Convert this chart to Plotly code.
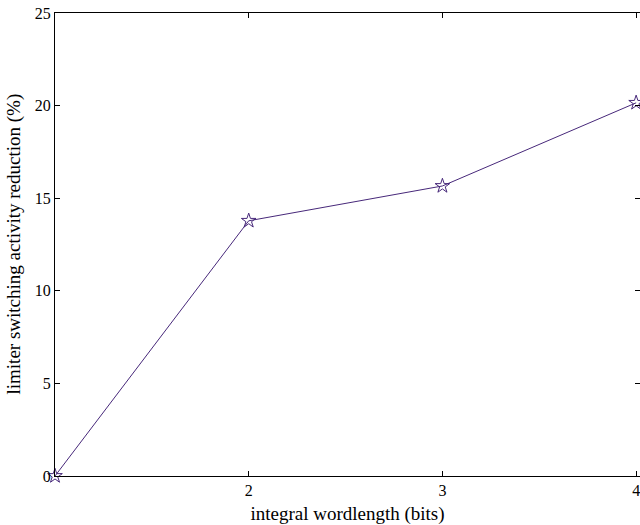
import plotly.graph_objects as go

# integral wordlength (bits) vs. limiter switching activity reduction (%)
wordlength = [1, 2, 3, 4]
reduction = [0.0, 13.78, 15.66, 20.15]
x_ticks = [2, 3, 4]
y_ticks = [0, 5, 10, 15, 20, 25]

x_label = "integral wordlength (bits)"
y_label = "limiter switching activity reduction (%)"

line_color = "#47287a"
font_family = "Liberation Serif, Times New Roman, serif"

fig = go.Figure(
    go.Scatter(
        x=wordlength,
        y=reduction,
        mode="lines+markers",
        line=dict(color=line_color, width=1),
        marker=dict(symbol="star-open", size=11, color=line_color,
                    line=dict(color=line_color, width=1)),
        cliponaxis=False,
        showlegend=False,
    )
)

axis_common = dict(
    showgrid=False,
    zeroline=False,
    showline=True,
    linecolor="black",
    linewidth=1.3,
    mirror="ticks",
    ticks="inside",
    ticklen=5,
    tickcolor="black",
    ticklabeloverflow="allow",
    tickfont=dict(family=font_family, size=16, color="black"),
)

fig.update_layout(
    width=640,
    height=525,
    margin=dict(l=55, r=0, t=13, b=49),
    paper_bgcolor="white",
    plot_bgcolor="white",
    font=dict(family=font_family, color="black"),
    xaxis=dict(
        range=[1, 4.02],
        tickvals=x_ticks,
        ticktext=[str(v) for v in x_ticks],
        automargin=False,
        title=dict(text=x_label,
                   font=dict(family=font_family, size=19), standoff=8),
        **axis_common,
    ),
    yaxis=dict(
        range=[0, 25],
        tickvals=y_ticks,
        ticktext=[str(v) for v in y_ticks],
        **axis_common,
    ),
    annotations=[
        dict(
            text=y_label,
            textangle=-90,
            xref="paper", yref="paper",
            x=0, y=0.5,
            xanchor="center", yanchor="middle",
            xshift=-42,
            showarrow=False,
            font=dict(family=font_family, size=19, color="black"),
        )
    ],
)

fig.write_html("out.html")
